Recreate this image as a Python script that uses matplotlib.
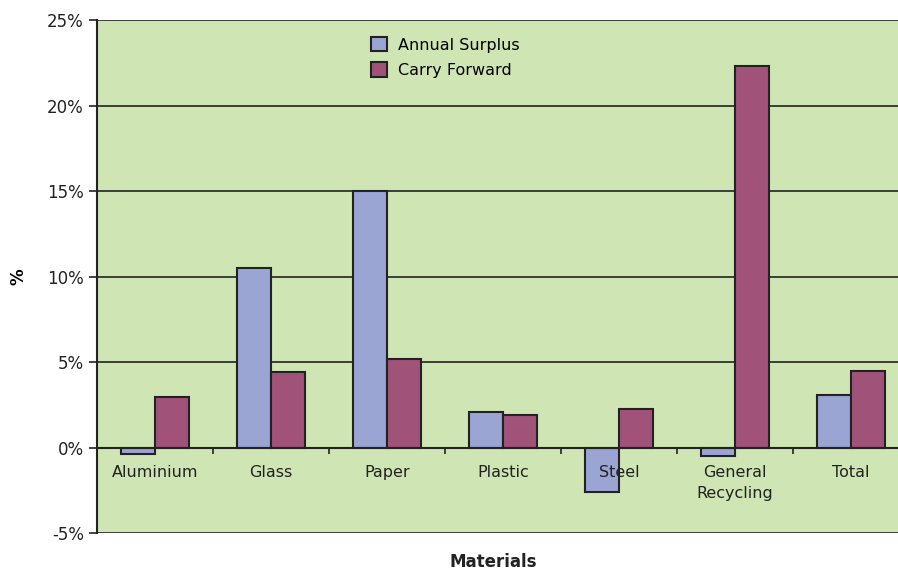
import matplotlib.pyplot as plt
import matplotlib.ticker as mticker
import numpy as np

materials = ["Aluminium", "Glass", "Paper", "Plastic", "Steel", "General\nRecycling", "Total"]
annual_surplus = [-0.4, 10.5, 15.0, 2.1, -2.6, -0.5, 3.1]
carry_forward = [2.95, 4.4, 5.2, 1.9, 2.25, 22.3, 4.5]

fig = plt.figure(figsize=(8.98, 5.73), dpi=100)
ax = fig.add_axes([0.108, 0.0698, 0.904, 0.895])

bg = "#cfe5b4"
ax.set_facecolor(bg)
x = np.arange(len(materials))
w = 0.293
ax.bar(x - w / 2, annual_surplus, w, color="#9aa5d4", edgecolor="#222222",
       linewidth=1.5, label="Annual Surplus", zorder=3)
ax.bar(x + w / 2, carry_forward, w, color="#a05278", edgecolor="#222222",
       linewidth=1.5, label="Carry Forward", zorder=3)

ax.set_xlim(-0.5, len(materials) - 0.5)
ax.set_ylim(-5, 25)
ax.set_yticks(np.arange(-5, 26, 5))
ax.yaxis.set_major_formatter(mticker.FuncFormatter(lambda v, p: f"{v:.0f}%"))
ax.grid(axis="y", color="#222222", linewidth=1.2, zorder=1)
ax.tick_params(axis="y", length=6, width=1.2, color="#222222", labelsize=12, labelcolor="#222222")

# zero line acts as the category axis
ax.spines["bottom"].set_position(("data", 0))
ax.spines["bottom"].set_zorder(4)
ax.set_xticks(x[:-1] + 0.5)
ax.set_xticklabels([])
ax.tick_params(axis="x", direction="out", length=4, width=1.2, color="#222222")
for s in ["top", "right"]:
    ax.spines[s].set_visible(False)
for s in ["left", "bottom"]:
    ax.spines[s].set_color("#222222")
    ax.spines[s].set_linewidth(1.5)

for i, name in enumerate(materials):
    ax.text(i, -1.0, name, ha="center", va="top", fontsize=11.5,
            color="#222222", linespacing=1.5, zorder=5)

ax.set_ylabel("%", fontsize=12, fontweight="bold", labelpad=14)
fig.text(0.549, 0.004, "Materials", ha="center", va="bottom",
         fontsize=12, fontweight="bold", color="#222222")

ax.legend(loc="upper left", bbox_to_anchor=(0.32, 0.995), frameon=False,
          fontsize=11.5, handlelength=1.0, handleheight=1.0,
          handletextpad=0.7, labelspacing=0.6)

fig.savefig("out.png", dpi=100)
